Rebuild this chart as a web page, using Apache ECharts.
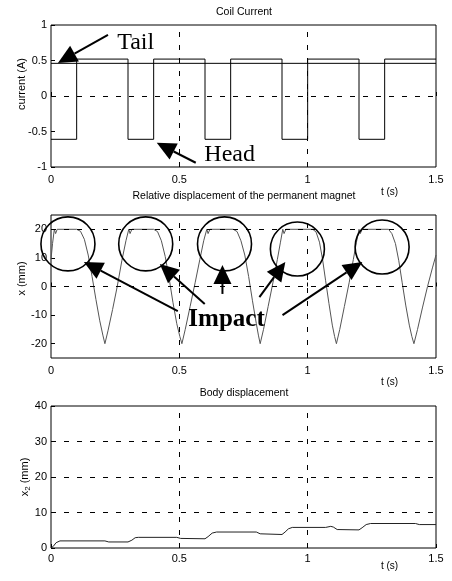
<!DOCTYPE html>
<html>
<head>
<meta charset="utf-8">
<script src="https://cdn.jsdelivr.net/npm/echarts@6/dist/echarts.min.js"></script>
<style>
  html, body { margin: 0; padding: 0; background: #fff; }
  #chart { width: 452px; height: 581px; }
</style>
</head>
<body>
<div id="chart"></div>
<script>
// ---- data ----
const timeTicks = [0, 0.5, 1, 1.5]

// coil current (square wave, A)
const currentT = [0, 0.1, 0.1, 0.3, 0.3, 0.4, 0.4, 0.6, 0.6, 0.7, 0.7, 0.9, 0.9, 1.0, 1.0, 1.2, 1.2, 1.3, 1.3, 1.5]
const currentV = [-0.61, -0.61, 0.52, 0.52, -0.61, -0.61, 0.52, 0.52, -0.61, -0.61, 0.52, 0.52, -0.61, -0.61, 0.52, 0.52, -0.61, -0.61, 0.52, 0.52]
const refT = [0, 1.5]
const refV = [0.46, 0.46]
const currentTicks = [-1, -0.5, 0, 0.5, 1]

// relative displacement of the magnet (mm)
const magnetT = [
  0, 0.006, 0.013, 0.018, 0.024, 0.1, 0.115, 0.13, 0.145, 0.16, 0.175, 0.19, 0.202, 0.21,
  0.222, 0.24, 0.258, 0.276, 0.292, 0.303,
  0.308, 0.315, 0.4, 0.415, 0.43, 0.445, 0.46, 0.475, 0.49, 0.502, 0.51,
  0.523, 0.542, 0.562, 0.58, 0.595, 0.607,
  0.612, 0.619, 0.71, 0.725, 0.74, 0.755, 0.77, 0.785, 0.8, 0.808, 0.815,
  0.828, 0.846, 0.865, 0.882, 0.894, 0.903,
  0.908, 0.915, 1.02, 1.033, 1.046, 1.058, 1.07, 1.083, 1.096, 1.105, 1.112,
  1.125, 1.143, 1.162, 1.178, 1.19, 1.2,
  1.205, 1.212, 1.315, 1.328, 1.342, 1.355, 1.368, 1.382, 1.396, 1.406, 1.414,
  1.428, 1.447, 1.467, 1.486, 1.5
]
const magnetX = [
  9.5, 15, 20, 18.5, 20, 20, 19.3, 16.5, 11, 3.5, -4.5, -12, -17, -20,
  -15.5, -8, 0, 9, 16, 20,
  18.5, 20, 20, 19.2, 16, 10.5, 3, -5.5, -13, -17.5, -20,
  -15, -7, 1.5, 9.5, 16, 20,
  18.5, 20, 20, 19.2, 16, 11, 3.5, -5, -13, -17, -20,
  -15, -7, 1.5, 9.5, 15.5, 20,
  18.5, 20, 20, 19, 15.5, 9.5, 2, -6, -13.5, -17.5, -20,
  -15, -7, 1.5, 9.5, 15.5, 20,
  18.5, 20, 20, 18.5, 15, 9, 1.5, -6.5, -13.5, -17.5, -20,
  -15, -7.5, 0, 6.5, 11
]
const magnetTicks = [-20, -10, 0, 10, 20]

// body displacement (mm)
const bodyT = [0, 0.008, 0.02, 0.035, 0.21, 0.225, 0.3, 0.315, 0.328, 0.34, 0.49, 0.505, 0.6, 0.612, 0.628, 0.645,
  0.8, 0.815, 0.9, 0.912, 0.925, 0.94, 1.07, 1.09, 1.1, 1.115, 1.2, 1.212, 1.228, 1.245, 1.42, 1.435, 1.5]
const bodyX = [0, 0.4, 1.5, 2.0, 2.0, 1.7, 1.7, 2.2, 2.9, 3.0, 3.0, 2.7, 2.6, 3.2, 4.2, 4.5,
  4.5, 4.0, 3.8, 4.5, 5.4, 5.8, 5.8, 6.1, 5.9, 5.2, 5.1, 5.7, 6.6, 6.9, 6.9, 6.6, 6.6]

// dashed grid lines that survive in the scan
const gridLinesT = [0.5, 1]
const currentGridY = [0]
const magnetGridY = [0, 20]
const bodyGridY = [10, 20, 30]

// annotations, in data units of each panel
const tailLabel = [0.33, 0.75]
const tailArrow = [[0.222, 0.86], [0.027, 0.465]]
const headLabel = [0.696, -0.83]
const headArrow = [[0.564, -0.94], [0.412, -0.66]]
const impactCircles = [[0.066, 14.9], [0.369, 14.9], [0.676, 14.9], [0.96, 13.1], [1.29, 13.8]]
const impactArrows = [
  [[0.494, -8.6], [0.128, 8.6]],
  [[0.599, -6.1], [0.424, 7.9]],
  [[0.668, -2.6], [0.668, 7.5]],
  [[0.812, -3.7], [0.913, 8.6]],
  [[0.902, -10.0], [1.213, 8.6]]
]
const impactLabel = [0.684, -11.4]

// ---- chart ----
const SANS = "'Liberation Sans', Arial, sans-serif"
const SERIF = "'Liberation Serif', 'Times New Roman', serif"
const pairs = (xs, ys) => xs.map((x, i) => [x, ys[i]])

const dash = { type: [5, 8], color: '#000', width: 1 }
function gridMarks(ys) {
  return {
    silent: true,
    symbol: 'none',
    label: { show: false },
    lineStyle: dash,
    animation: false,
    data: gridLinesT.map(v => ({ xAxis: v })).concat(ys.map(v => ({ yAxis: v })))
  }
}

function xAxisFor(i, labelMargin, nameGap) {
  return {
    type: 'value', gridIndex: i, min: 0, max: 1.5, interval: 0.5,
    axisLine: { show: false },
    axisTick: { inside: true, length: 4, lineStyle: { color: '#000' } },
    axisLabel: { color: '#000', fontSize: 11, fontFamily: SANS, margin: labelMargin },
    splitLine: { show: false },
    name: 't (s)', nameLocation: 'middle', nameGap: nameGap, nameMoveOverlap: false,
    nameTextStyle: { color: '#000', fontSize: 10, fontFamily: SANS, padding: [0, 0, 0, 292] }
  }
}

const gridBox = { show: true, borderColor: '#000', borderWidth: 1, left: 51, right: 16 }

const option = {
  animation: false,
  backgroundColor: '#fff',
  grid: [
    Object.assign({ top: 25, height: 142 }, gridBox),
    Object.assign({ top: 215, height: 143 }, gridBox),
    Object.assign({ top: 406, height: 142 }, gridBox)
  ],
  xAxis: [xAxisFor(0, 7, 20), xAxisFor(1, 7, 19), xAxisFor(2, 5, 13)],
  yAxis: [
    {
      type: 'value', gridIndex: 0, min: -1, max: 1, interval: 0.5,
      axisLine: { show: false },
      axisTick: { inside: true, length: 4, lineStyle: { color: '#000' } },
      axisLabel: { color: '#000', fontSize: 11, fontFamily: SANS, margin: 4 },
      splitLine: { show: false },
      name: 'current (A)', nameLocation: 'middle', nameGap: 24, nameMoveOverlap: false,
      nameTextStyle: { color: '#000', fontSize: 11, fontFamily: SANS, padding: [0, 0, 0, 24] }
    },
    {
      type: 'value', gridIndex: 1, min: -25, max: 25, interval: 5,
      axisLine: { show: false },
      axisTick: { inside: true, length: 4, lineStyle: { color: '#000' }, customValues: magnetTicks },
      axisLabel: { color: '#000', fontSize: 11, fontFamily: SANS, margin: 4, customValues: magnetTicks },
      splitLine: { show: false },
      name: 'x (mm)', nameLocation: 'middle', nameGap: 24, nameMoveOverlap: false,
      nameTextStyle: { color: '#000', fontSize: 11, fontFamily: SANS, padding: [0, 0, 0, 16] }
    },
    {
      type: 'value', gridIndex: 2, min: 0, max: 40, interval: 10,
      axisLine: { show: false },
      axisTick: { inside: true, length: 4, lineStyle: { color: '#000' } },
      axisLabel: { color: '#000', fontSize: 11, fontFamily: SANS, margin: 4 },
      splitLine: { show: false },
      name: 'x{sub|2} (mm)', nameLocation: 'middle', nameGap: 19, nameMoveOverlap: false,
      nameTextStyle: {
        color: '#000', fontSize: 11, fontFamily: SANS,
        rich: { sub: { fontSize: 8, fontFamily: SANS, color: '#000', padding: [7, 0, 0, 0] } }
      }
    }
  ],
  series: [
    {
      type: 'line', xAxisIndex: 0, yAxisIndex: 0, data: pairs(currentT, currentV),
      symbol: 'none', lineStyle: { color: '#000', width: 1 }, silent: true,
      markLine: gridMarks(currentGridY)
    },
    {
      type: 'line', xAxisIndex: 0, yAxisIndex: 0, data: pairs(refT, refV),
      symbol: 'none', lineStyle: { color: '#000', width: 1 }, silent: true
    },
    {
      type: 'line', xAxisIndex: 1, yAxisIndex: 1, data: pairs(magnetT, magnetX),
      symbol: 'none', lineStyle: { color: '#555', width: 1 }, silent: true,
      markLine: gridMarks(magnetGridY)
    },
    {
      type: 'line', xAxisIndex: 2, yAxisIndex: 2, data: pairs(bodyT, bodyX),
      symbol: 'none', lineStyle: { color: '#222', width: 1 }, silent: true,
      markLine: gridMarks(bodyGridY)
    }
  ]
}

const chart = echarts.init(document.getElementById('chart'))
chart.setOption(option)

// ---- titles and hand-drawn annotations ----
const px = (g, p) => chart.convertToPixel({ gridIndex: g }, p)

function title(text, y) {
  return { type: 'text', x: 244, y: y, style: { text: text, fill: '#000', font: '10.5px ' + SANS, textAlign: 'center', textVerticalAlign: 'middle' } }
}
function label(g, p, text, bold) {
  const c = px(g, p)
  return { type: 'text', x: c[0], y: c[1], z: 10, style: { text: text, fill: '#000', font: (bold ? 'bold 25px ' : '24px ') + SERIF, textAlign: 'center', textVerticalAlign: 'middle' } }
}
function arrow(g, tail, tip) {
  const a = px(g, tail), b = px(g, tip)
  const dx = b[0] - a[0], dy = b[1] - a[1]
  const len = Math.hypot(dx, dy)
  const ux = dx / len, uy = dy / len
  const L = 19, W = 9
  const bx = b[0] - ux * L, by = b[1] - uy * L
  return [
    { type: 'line', z: 10, shape: { x1: a[0], y1: a[1], x2: bx, y2: by }, style: { stroke: '#000', lineWidth: 2 } },
    { type: 'polygon', z: 10, shape: { points: [b, [bx - uy * W, by + ux * W], [bx + uy * W, by - ux * W]] }, style: { fill: '#000' } }
  ]
}

let elements = [
  title('Coil Current', 12),
  title('Relative displacement of the permanent magnet', 196),
  title('Body displacement', 393),
  label(0, tailLabel, 'Tail'),
  label(0, headLabel, 'Head'),
  label(1, impactLabel, 'Impact', true)
]
elements = elements.concat(arrow(0, tailArrow[0], tailArrow[1]), arrow(0, headArrow[0], headArrow[1]))
impactCircles.forEach(c => {
  const p = px(1, c)
  elements.push({ type: 'circle', z: 10, shape: { cx: p[0], cy: p[1], r: 27 }, style: { fill: 'none', stroke: '#000', lineWidth: 1.6 } })
})
impactArrows.forEach(a => { elements = elements.concat(arrow(1, a[0], a[1])) })

chart.setOption({ graphic: { elements: elements } })
</script>
</body>
</html>
